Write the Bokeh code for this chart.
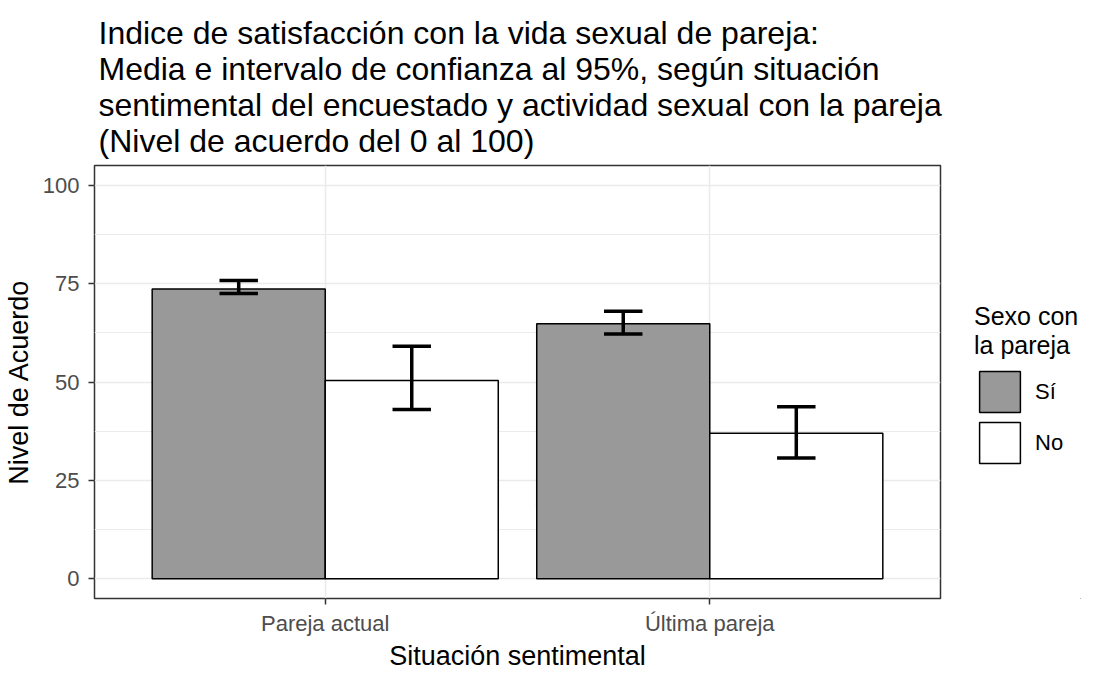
from bokeh.plotting import figure
from bokeh.layouts import row
from bokeh.models import (ColumnDataSource, FactorRange, Range1d, FixedTicker,
                          Legend, LegendItem)
from bokeh.transform import dodge
from bokeh.embed import file_html
from bokeh.resources import INLINE

# ---- data ----
situacion = ["Pareja actual", "Última pareja"]
grupos = ["Sí", "No"]
media_si = [73.6, 64.8]
lo_si = [72.5, 62.2]
hi_si = [75.8, 68.0]
media_no = [50.4, 37.0]
lo_no = [43.0, 30.7]
hi_no = [59.1, 43.7]
y_ticks = [0, 25, 50, 75, 100]
y_minor = [12.5, 37.5, 62.5, 87.5]

titulo = ("Indice de satisfacción con la vida sexual de pareja:\n"
          "Media e intervalo de confianza al 95%, según situación\n"
          "sentimental del encuestado y actividad sexual con la pareja\n"
          "(Nivel de acuerdo del 0 al 100)")

FONT = "Liberation Sans"
H = 673

src = ColumnDataSource(dict(situacion=situacion, media_si=media_si, lo_si=lo_si,
                            hi_si=hi_si, media_no=media_no, lo_no=lo_no, hi_no=hi_no))

p = figure(width=962, height=H, output_backend="svg", toolbar_location=None,
           x_range=FactorRange(factors=situacion, range_padding=0.1,
                               range_padding_units="absolute"),
           y_range=Range1d(-5, 105),
           min_border_left=87, min_border_right=22, min_border_top=165,
           min_border_bottom=62)

p.title.text = titulo
p.title.text_font = FONT
p.title.text_font_size = "32px"
p.title.text_font_style = "normal"
p.title.text_color = "black"
p.title.text_line_height = 1.0
p.title.standoff = 14
p.title.offset = 4

p.background_fill_color = "white"
p.border_fill_color = "white"
p.outline_line_color = "#333333"
p.outline_line_width = 1.5

# grids
p.xgrid.grid_line_color = "#EBEBEB"
p.xgrid.grid_line_width = 1.5
p.ygrid.grid_line_color = "#EBEBEB"
p.ygrid.grid_line_width = 1.5
p.ygrid.minor_grid_line_color = "#EBEBEB"
p.ygrid.minor_grid_line_width = 1.0

# axes
p.yaxis.ticker = FixedTicker(ticks=y_ticks, minor_ticks=y_minor)
for ax in (p.xaxis[0], p.yaxis[0]):
    ax.axis_line_color = None
    ax.major_tick_line_color = "#333333"
    ax.major_tick_line_width = 1.5
    ax.major_tick_out = 6
    ax.major_tick_in = 0
    ax.minor_tick_out = 0
    ax.minor_tick_in = 0
    ax.major_label_text_font = FONT
    ax.major_label_text_font_size = "22px"
    ax.major_label_text_color = "#4D4D4D"
    ax.axis_label_text_font = FONT
    ax.axis_label_text_font_size = "27px"
    ax.axis_label_text_font_style = "normal"
    ax.axis_label_text_color = "black"
p.xaxis.axis_label = "Situación sentimental"
p.yaxis.axis_label = "Nivel de Acuerdo"
p.yaxis.major_label_standoff = 9
p.xaxis.major_label_standoff = 6
p.yaxis.axis_label_standoff = 6
p.xaxis.axis_label_standoff = 2
p.xaxis.major_label_text_line_height = 0.9
p.xaxis.axis_label_text_line_height = 0.9

# bars
w = 0.45
bar_si = dict(fill_color="#999999", line_color="black", line_width=1.5)
bar_no = dict(fill_color="white", line_color="black", line_width=1.5)
p.vbar(x=dodge("situacion", -0.225, range=p.x_range), top="media_si", bottom=0,
       width=w, source=src, **bar_si)
p.vbar(x=dodge("situacion", 0.225, range=p.x_range), top="media_no", bottom=0,
       width=w, source=src, **bar_no)

# error bars
for off, lo, hi in ((-0.225, "lo_si", "hi_si"), (0.225, "lo_no", "hi_no")):
    p.segment(x0=dodge("situacion", off, range=p.x_range), x1=dodge("situacion", off, range=p.x_range),
              y0=lo, y1=hi, line_color="black", line_width=3.5, source=src)
    for yy in (lo, hi):
        p.segment(x0=dodge("situacion", off - 0.05, range=p.x_range),
                  x1=dodge("situacion", off + 0.05, range=p.x_range),
                  y0=yy, y1=yy, line_color="black", line_width=3.5, source=src)

# ---- legend panel (separate narrow figure, same data/glyph styles, bars kept out of view) ----
pl = figure(width=119, height=H, output_backend="svg", toolbar_location=None,
            x_range=FactorRange(factors=situacion), y_range=Range1d(1000, 1001),
            x_axis_location=None, y_axis_location=None, min_border=0)
pl.outline_line_color = None
pl.grid.visible = False
pl.background_fill_color = "white"
pl.border_fill_color = "white"
l_si = pl.vbar(x=dodge("situacion", 100, range=pl.x_range), top="media_si", bottom=0,
               width=w, source=src, **bar_si)
l_no = pl.vbar(x=dodge("situacion", 100, range=pl.x_range), top="media_no", bottom=0,
               width=w, source=src, **bar_no)

legend = Legend(items=[LegendItem(label=grupos[0], renderers=[l_si]),
                       LegendItem(label=grupos[1], renderers=[l_no])],
                location=(12, 130), padding=0, margin=0,
                glyph_width=51, glyph_height=51, spacing=0, label_standoff=10,
                label_text_font=FONT, label_text_font_size="22px",
                label_text_color="black",
                title="Sexo con\nla pareja", title_text_font=FONT,
                title_text_font_size="25px", title_text_font_style="normal",
                title_text_color="black", title_text_line_height=0.9,
                title_standoff=6,
                background_fill_alpha=0, border_line_color=None)
pl.add_layout(legend, "center")

layout = row(p, pl)
open("out.html", "w").write(file_html(layout, INLINE))
